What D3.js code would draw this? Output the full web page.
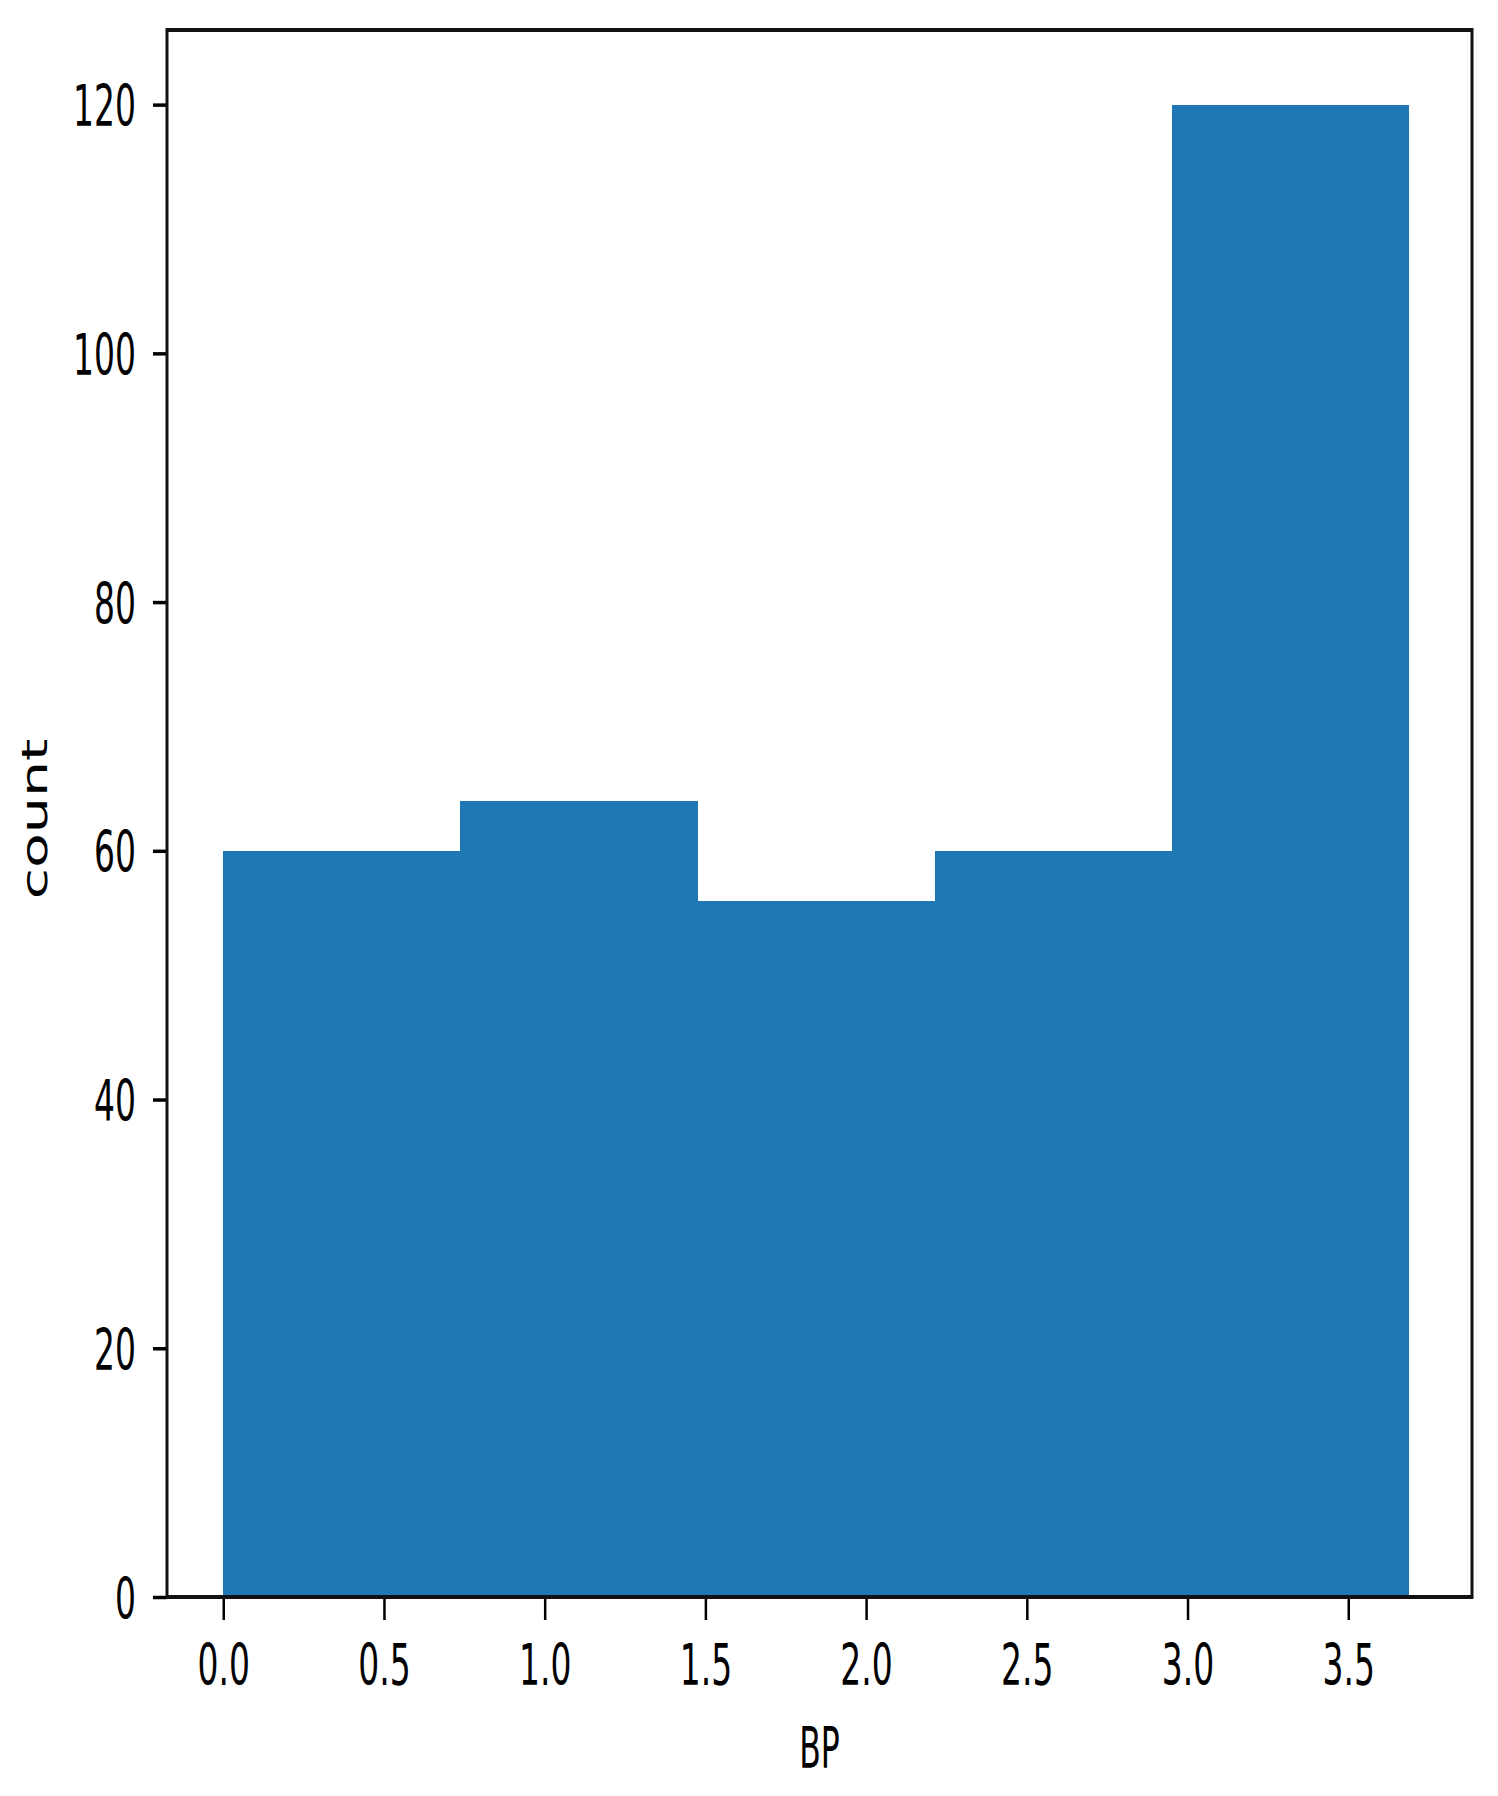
<!DOCTYPE html>
<html>
<head>
<meta charset="utf-8">
<script src="https://cdn.jsdelivr.net/npm/d3@7"></script>
<style>
  html, body { margin: 0; padding: 0; background: #fff; }
  svg { display: block; }
  text { font-family: "DejaVu Sans", sans-serif; fill: #000; }
</style>
</head>
<body>
<svg id="chart" width="1498" height="1796"></svg>
<script>
// ---- data ----
const binEdges = [0, 0.738, 1.476, 2.214, 2.952, 3.69];
const counts = [60, 64, 56, 60, 120];
const xTicks = [0, 0.5, 1.0, 1.5, 2.0, 2.5, 3.0, 3.5];
const yTicks = [0, 20, 40, 60, 80, 100, 120];
const xLabel = "BP";
const yLabel = "count";

const bins = counts.map((c, i) => ({ x0: binEdges[i], x1: binEdges[i + 1], count: c }));

// ---- layout ----
const L = 167, R = 1472, T = 30, B = 1597;
const x = d3.scaleLinear().domain([-0.175, 3.885]).range([L, R]);
const y = d3.scaleLinear().domain([0, 126]).range([B, T]);

const svg = d3.select("#chart");

// bars
svg.append("g").attr("shape-rendering", "crispEdges")
  .selectAll("rect").data(bins).join("rect")
  .attr("x", d => Math.round(x(d.x0)))
  .attr("width", d => Math.round(x(d.x1)) - Math.round(x(d.x0)))
  .attr("y", d => y(d.count))
  .attr("height", d => y(0) - y(d.count))
  .attr("fill", "#1f77b4");

// y axis ticks
const yAxis = svg.append("g").attr("transform", `translate(${L},0)`)
  .call(d3.axisLeft(y).tickValues(yTicks).tickSize(14).tickFormat(d3.format("d")));
yAxis.select(".domain").remove();
yAxis.selectAll(".tick line").attr("stroke", "#000").attr("stroke-width", 3.5);
yAxis.selectAll(".tick text")
  .attr("x", null).attr("dy", "0.3645em")
  .attr("font-size", 33)
  .attr("font-family", "DejaVu Sans, sans-serif")
  .attr("text-anchor", "end")
  .attr("transform", "translate(-31,0) scale(1,1.75)");

// x axis ticks
const xAxis = svg.append("g").attr("transform", `translate(0,${B})`)
  .call(d3.axisBottom(x).tickValues(xTicks).tickSize(23).tickFormat(d3.format(".1f")));
xAxis.select(".domain").remove();
xAxis.selectAll(".tick line").attr("stroke", "#000").attr("stroke-width", 2.5);
xAxis.selectAll(".tick text")
  .attr("y", null).attr("dy", "0.729em")
  .attr("font-size", 33)
  .attr("font-family", "DejaVu Sans, sans-serif")
  .attr("text-anchor", "middle")
  .attr("transform", "translate(0,46) scale(1,1.75)");

// spines
const sp = svg.append("g").attr("stroke", "#111").attr("fill", "none");
sp.append("line").attr("x1", L).attr("x2", R).attr("y1", T).attr("y2", T).attr("stroke-width", 4);
sp.append("line").attr("x1", L).attr("x2", R).attr("y1", B).attr("y2", B).attr("stroke-width", 4);
sp.append("line").attr("x1", L).attr("x2", L).attr("y1", T - 2).attr("y2", B + 2).attr("stroke-width", 3);
sp.append("line").attr("x1", R).attr("x2", R).attr("y1", T - 2).attr("y2", B + 2).attr("stroke-width", 3);

// axis labels
svg.append("text")
  .attr("transform", `translate(${(L + R) / 2},1768) scale(1,1.8)`)
  .attr("text-anchor", "middle")
  .attr("font-size", 31.5)
  .text(xLabel);

svg.append("text")
  .attr("transform", `translate(46.5,819) rotate(-90) scale(1.58,1)`)
  .attr("text-anchor", "middle")
  .attr("font-size", 36)
  .text(yLabel);
</script>
</body>
</html>
